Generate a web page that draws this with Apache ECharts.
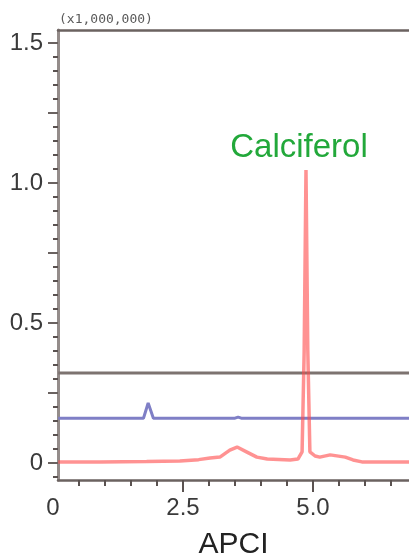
<!DOCTYPE html>
<html>
<head>
<meta charset="utf-8">
<script src="https://cdn.jsdelivr.net/npm/echarts@6/dist/echarts.min.js"></script>
<style>
  html, body { margin: 0; padding: 0; background: #fff; }
  #chart { width: 409px; height: 559px; }
</style>
</head>
<body>
<div id="chart"></div>
<script>
// traces, [time, intensity x1,000,000]
var redTrace = [
  [0.10, 0.004], [0.90, 0.004], [1.80, 0.005], [2.44, 0.007], [2.80, 0.012],
  [3.02, 0.018], [3.21, 0.021], [3.40, 0.046], [3.54, 0.057], [3.73, 0.039],
  [3.92, 0.021], [4.12, 0.014], [4.56, 0.011], [4.71, 0.014], [4.79, 0.040],
  [4.83, 0.40], [4.865, 1.046], [4.90, 0.40], [4.94, 0.040], [5.04, 0.025],
  [5.13, 0.021], [5.33, 0.029], [5.62, 0.021], [5.77, 0.011], [5.94, 0.004],
  [6.85, 0.004]
];
var blueTrace = [
  [0.10, 0.160], [1.74, 0.160], [1.83, 0.214], [1.93, 0.160], [3.50, 0.160],
  [3.56, 0.164], [3.62, 0.160], [6.85, 0.160]
];
var grayTrace = [[0.10, 0.321], [6.85, 0.321]];

var xMinorTicks = [0.5, 1, 1.5, 2, 2.5, 3, 3.5, 4, 4.5, 5, 5.5, 6, 6.5];
var xMajorTicks = [2.5, 5];
var xLabels = [0, 2.5, 5];
var yMinorTicks = [];
for (var k = -1; k <= 30; k++) yMinorTicks.push(k * 0.05);
var yMajorTicks = [0, 0.25, 0.5, 0.75, 1, 1.25, 1.5];
var yLabels = [0, 0.5, 1, 1.5];

var peakName = 'Calciferol';

var font = 'Liberation Sans, Arial, sans-serif';
var xMin = 0.096, xMax = 6.846;
var yMin = -0.0607, yMax = 1.546;

function fmt(v) { return v === 0 ? '0' : v.toFixed(1); }

var myChart = echarts.init(document.getElementById('chart'));
var option = {
  animation: false,
  title: {
    text: '(x1,000,000)',
    left: 54, top: 8,
    textStyle: { fontFamily: 'DejaVu Sans Mono, monospace', fontSize: 13, fontWeight: 'normal', color: '#5a5a5a' }
  },
  grid: [
    { left: 58, right: 0, top: 30, bottom: 79, outerBoundsMode: 'none', containLabel: false },
    { left: 53, right: 0, top: 30, bottom: 79, outerBoundsMode: 'none', containLabel: false }
  ],
  xAxis: [
    {
      type: 'value', gridIndex: 0, min: xMin, max: xMax, position: 'bottom',
      axisLine: { show: true, onZero: false, lineStyle: { color: '#6b6260', width: 2.5 } },
      axisTick: { show: true, customValues: xMinorTicks, length: 6, lineStyle: { color: '#5a5250', width: 2 } },
      axisLabel: { show: false },
      splitLine: { show: false },
      name: 'APCI', nameLocation: 'middle', nameGap: 50,
      nameTextStyle: { fontFamily: font, fontSize: 30, color: '#222' }
    },
    {
      type: 'value', gridIndex: 0, min: xMin, max: xMax, position: 'top',
      axisLine: { show: true, onZero: false, lineStyle: { color: '#6b6260', width: 2.5 } },
      axisTick: { show: false }, axisLabel: { show: false }, splitLine: { show: false }
    },
    {
      type: 'value', gridIndex: 1, min: 0, max: 6.846, position: 'bottom',
      axisLine: { show: false, onZero: false },
      axisTick: { show: true, customValues: xMajorTicks, length: 12, lineStyle: { color: '#5a5250', width: 2 } },
      axisLabel: {
        show: true, customValues: xLabels, margin: 16, fontFamily: font, fontSize: 24, color: '#3a3a3a',
        formatter: fmt
      },
      splitLine: { show: false }
    }
  ],
  yAxis: [
    {
      type: 'value', gridIndex: 0, min: yMin, max: yMax, position: 'left',
      axisLine: { show: true, onZero: false, lineStyle: { color: '#948c8a', width: 3 } },
      axisTick: { show: true, customValues: yMinorTicks, length: 5, lineStyle: { color: '#5a5250', width: 2 } },
      axisLabel: { show: false },
      splitLine: { show: false }
    },
    {
      type: 'value', gridIndex: 0, min: yMin, max: yMax, position: 'left', offset: 0,
      axisLine: { show: false, onZero: false },
      axisTick: { show: true, customValues: yMajorTicks, length: 10, lineStyle: { color: '#6a6260', width: 2 } },
      axisLabel: {
        show: true, customValues: yLabels, margin: 15, fontFamily: font, fontSize: 24, color: '#3a3a3a',
        formatter: fmt
      },
      splitLine: { show: false }
    },
    { type: 'value', gridIndex: 1, show: false, min: yMin, max: yMax, position: 'left', axisLine: { onZero: false } }
  ],
  series: [
    {
      type: 'line', xAxisIndex: 0, yAxisIndex: 0, data: grayTrace, symbol: 'none',
      lineStyle: { color: '#7d7370', width: 3 }
    },
    {
      type: 'line', xAxisIndex: 0, yAxisIndex: 0, data: blueTrace, symbol: 'none',
      lineStyle: { color: '#7f7fc6', width: 3 }
    },
    {
      type: 'line', xAxisIndex: 0, yAxisIndex: 0, data: redTrace, symbol: 'none',
      lineStyle: { color: '#ff4a4a', width: 3.5, opacity: 0.6 },
      markPoint: {
        symbol: 'circle', symbolSize: 1, itemStyle: { color: 'rgba(0,0,0,0)' },
        label: {
          show: true, position: 'inside', offset: [-7, -22], formatter: peakName,
          fontFamily: font, fontSize: 33, color: '#22a83a'
        },
        data: [{ coord: [4.865, 1.046] }]
      }
    }
  ]
};
option && myChart.setOption(option);
</script>
</body>
</html>
